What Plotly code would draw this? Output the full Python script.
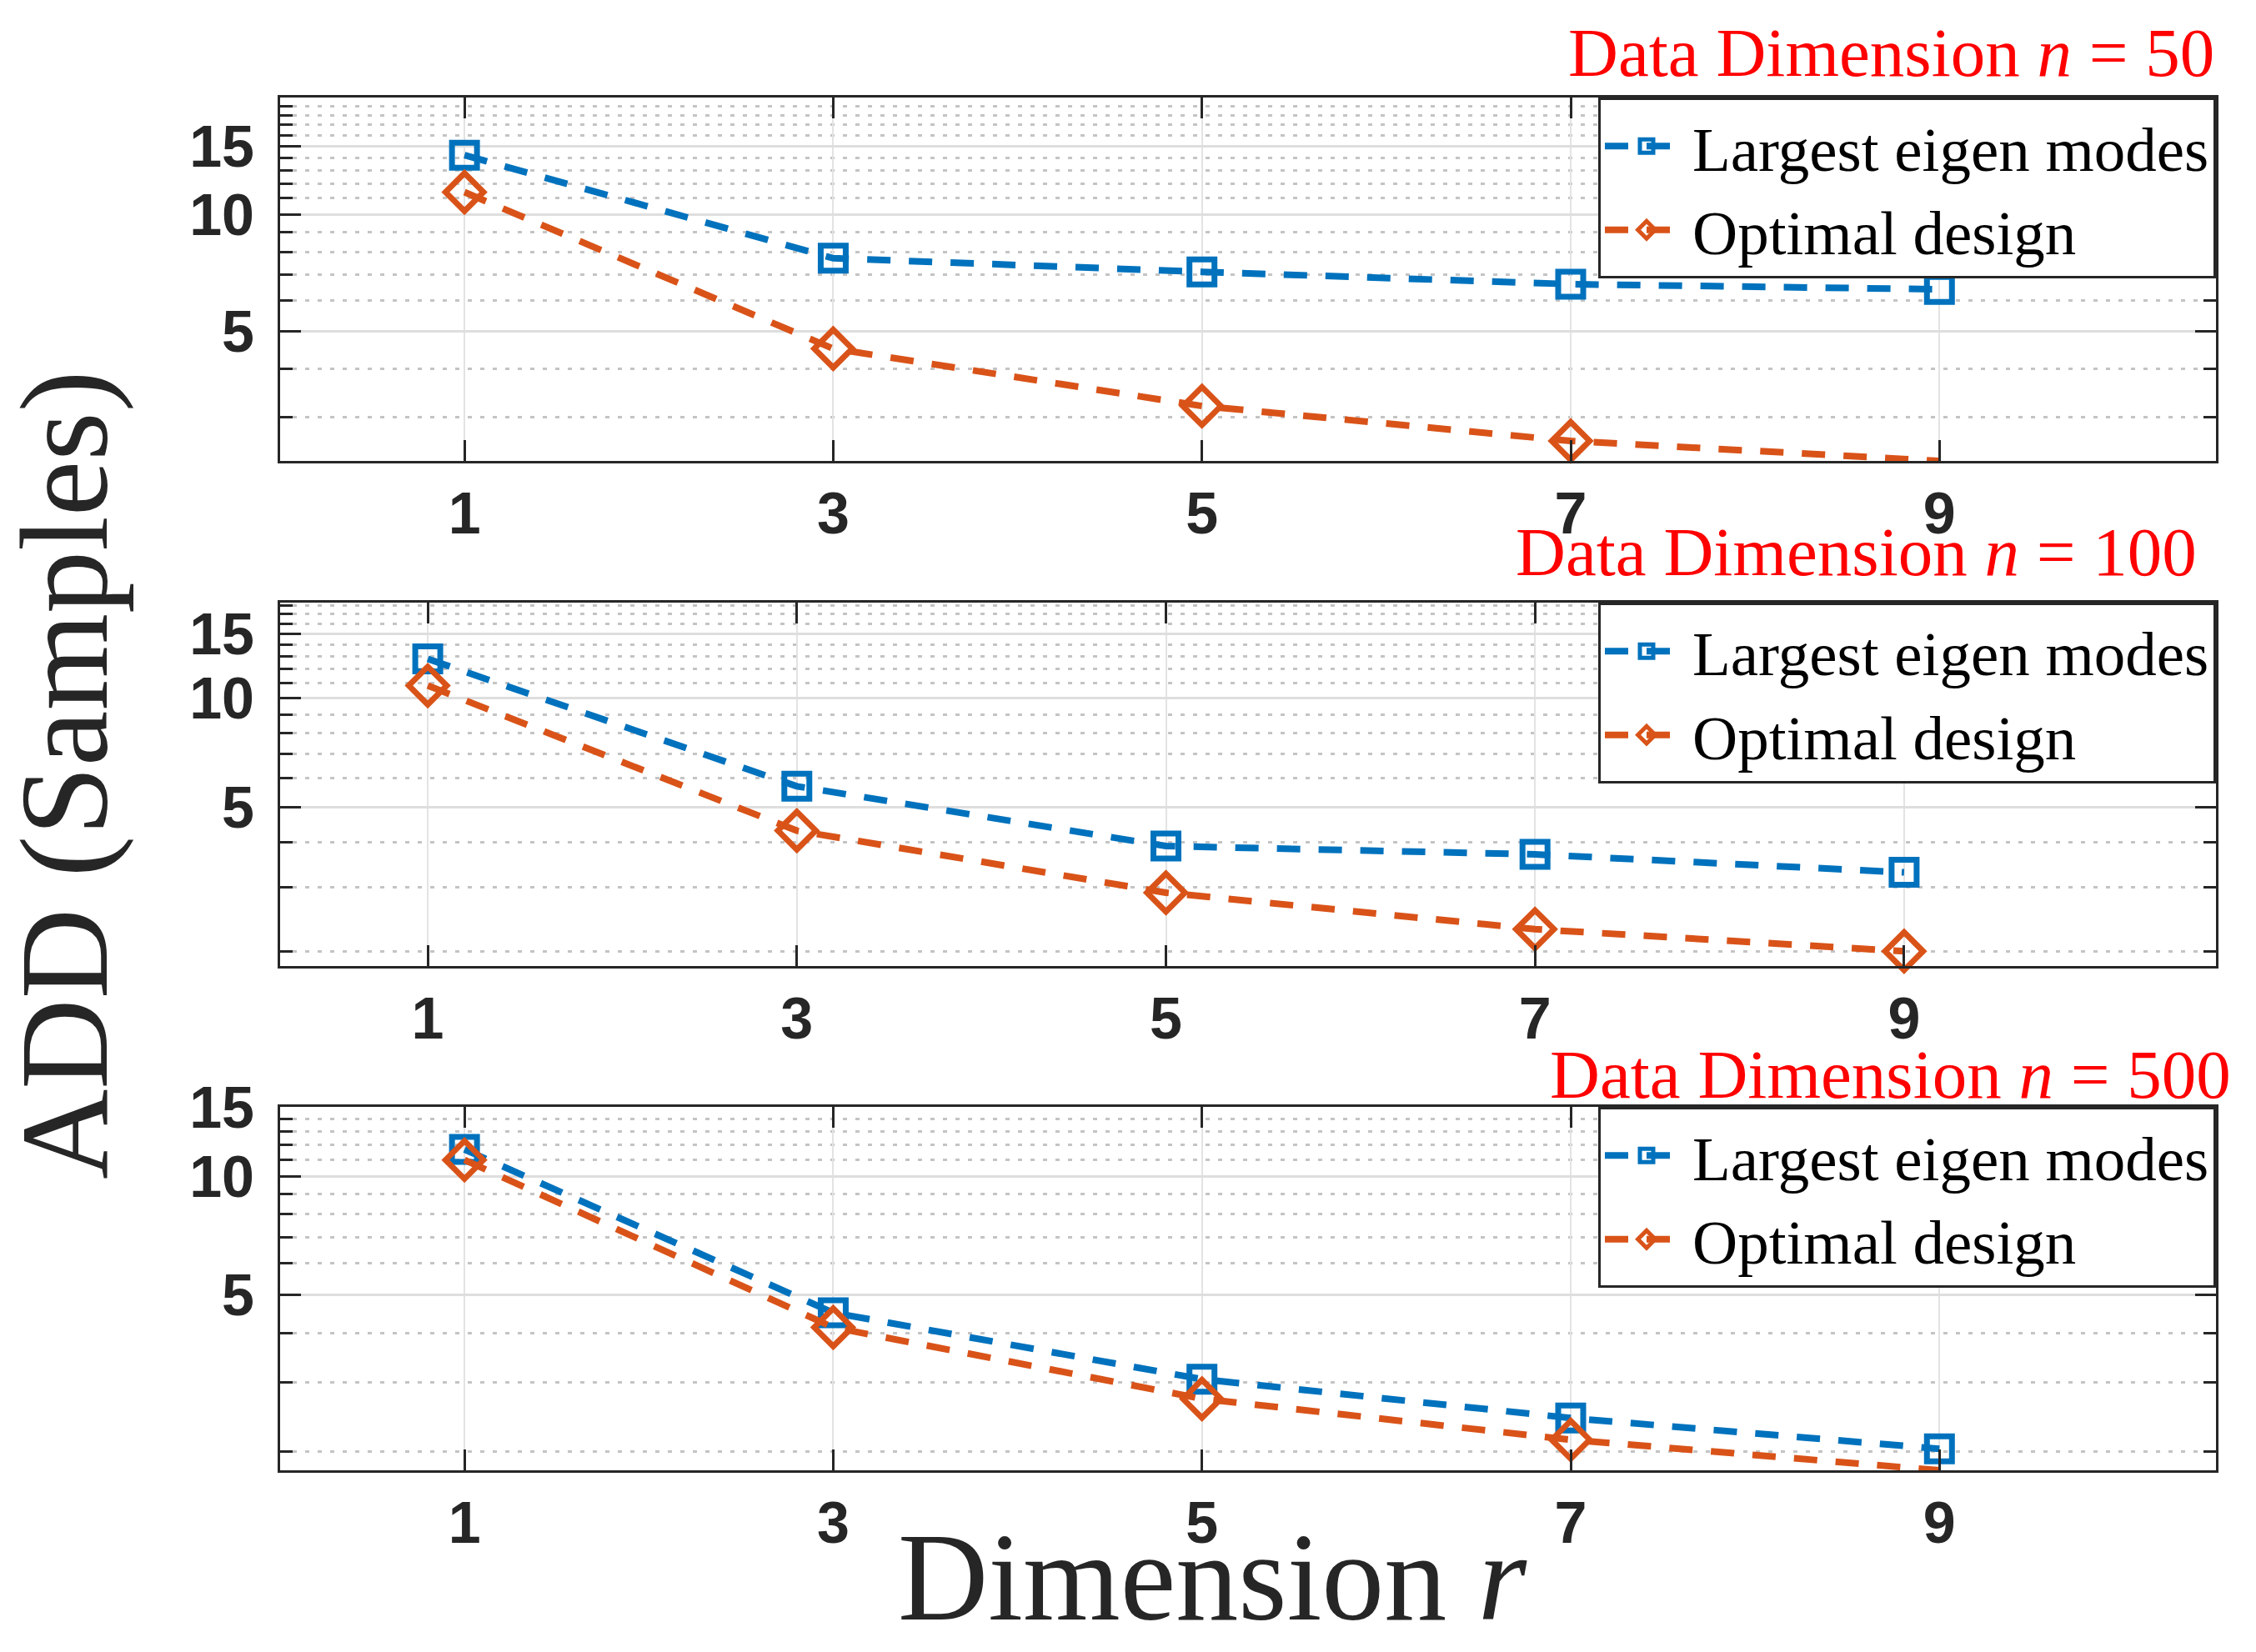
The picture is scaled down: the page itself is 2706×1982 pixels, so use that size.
import math
import plotly.graph_objects as go
from plotly.subplots import make_subplots

# datos
r_vals = [1, 3, 5, 7, 9]
n50_eigen = [14.2, 7.7, 7.1, 6.6, 6.4]
n50_opt = [11.4, 4.5, 3.2, 2.6, 2.31]
n100_eigen = [12.8, 5.7, 3.9, 3.7, 3.3]
n100_opt = [10.8, 4.3, 2.9, 2.3, 2.0]
n500_eigen = [11.7, 4.5, 3.05, 2.43, 2.03]
n500_opt = [11.0, 4.13, 2.72, 2.14, 1.79]

paneles = ["Data Dimension <i>n</i> = 50", "Data Dimension <i>n</i> = 100",
           "Data Dimension <i>n</i> = 500"]
nombres = ["Largest eigen modes", "Optimal design"]
ytick_vals = [5, 10, 15]
ytick_text = ["5", "10", "15"]
xtick_vals = [1, 3, 5, 7, 9]
minor_vals = [2, 3, 4, 6, 7, 8, 9, 11, 12, 13, 14, 16, 17, 18, 19]

AZUL = "#0072BD"
NARANJA = "#D95319"
GRIS = "#262626"
SERIF = "Liberation Serif"
SANS = "Liberation Sans"

fig = make_subplots(rows=3, cols=1, vertical_spacing=0.1)

series = [(n50_eigen, n50_opt), (n100_eigen, n100_opt), (n500_eigen, n500_opt)]
leyendas = ["legend", "legend2", "legend3"]
for i, (eig, opt) in enumerate(series):
    fig.add_trace(go.Scatter(x=r_vals, y=eig, name=nombres[0], mode="lines+markers",
                             line=dict(color=AZUL, width=8, dash="28px,22px"),
                             marker=dict(symbol="square-open", size=30, color=AZUL,
                                         line=dict(width=7, color=AZUL)),
                             cliponaxis=False, legend=leyendas[i]), row=i + 1, col=1)
    fig.add_trace(go.Scatter(x=r_vals, y=opt, name=nombres[1], mode="lines+markers",
                             line=dict(color=NARANJA, width=8, dash="28px,22px"),
                             marker=dict(symbol="diamond-open", size=35, color=NARANJA,
                                         line=dict(width=7, color=NARANJA)),
                             cliponaxis=False, legend=leyendas[i]), row=i + 1, col=1)

# dominios de cada panel (coordenadas de papel)
dominios = [[0.7353, 1.0], [0.3673, 0.6321], [0.0, 0.2647]]
rangos_x = [[0, 10.5], [0.2, 10.69], [0, 10.5]]
rangos_y = [[2.31, 20], [1.82, 18.3], [1.79, 15]]

for i in range(3):
    fig.update_xaxes(row=i + 1, col=1, range=rangos_x[i], tickvals=xtick_vals,
                     ticks="inside", ticklen=25, tickwidth=3, tickcolor=GRIS,
                     showline=True, linecolor=GRIS, linewidth=3, mirror="allticks",
                     showgrid=True, gridcolor="#e3e3e3", gridwidth=2, zeroline=False,
                     tickfont=dict(family=SANS, size=70, color=GRIS, weight="bold"),
                     ticklabelstandoff=0)
    fig.update_yaxes(row=i + 1, col=1, type="log", domain=dominios[i],
                     range=[math.log10(rangos_y[i][0]), math.log10(rangos_y[i][1])],
                     tickvals=ytick_vals, ticktext=ytick_text,
                     ticks="inside", ticklen=25, tickwidth=3, tickcolor=GRIS,
                     showline=True, linecolor=GRIS, linewidth=3, mirror="allticks",
                     showgrid=True, gridcolor="#dedede", gridwidth=3, zeroline=False,
                     tickfont=dict(family=SANS, size=70, color=GRIS, weight="bold"),
                     ticklabelstandoff=14,
                     minor=dict(tickvals=minor_vals, ticks="inside", ticklen=15,
                                tickwidth=3, tickcolor=GRIS, showgrid=True,
                                gridcolor="#c4c4c4", gridwidth=3, griddash="5px,10px"))

# titulos rojos de cada panel
pos_titulo = [(1.0, 1.0328), (0.991, 0.6691), (1.0086, 0.2884)]
for i, (xx, yy) in enumerate(pos_titulo):
    fig.add_annotation(text=paneles[i], xref="paper", yref="paper", x=xx, y=yy,
                       xanchor="right", yanchor="middle", showarrow=False,
                       font=dict(family=SERIF, size=83, color="red"))

fig.add_annotation(text="ADD (Samples)", xref="paper", yref="paper", x=-0.1111, y=0.5064,
                   xanchor="center", yanchor="middle", textangle=-90, showarrow=False,
                   font=dict(family=SERIF, size=150, color=GRIS))
fig.add_annotation(text="Dimension <i>r</i>", xref="paper", yref="paper", x=0.4817, y=-0.0777,
                   xanchor="center", yanchor="middle", showarrow=False,
                   font=dict(family=SERIF, size=150, color=GRIS))

estilo_leyenda = dict(x=1, xanchor="right", yanchor="top", bgcolor="white",
                      bordercolor=GRIS, borderwidth=3, tracegroupgap=0, itemwidth=100,
                      itemsizing="trace",
                      font=dict(family=SERIF, size=75, color="black"))
fig.update_layout(
    width=2706, height=1982,
    margin=dict(l=336, r=48, t=117, b=218),
    plot_bgcolor="white", paper_bgcolor="white",
    legend=dict(y=dominios[0][1], **estilo_leyenda),
    legend2=dict(y=dominios[1][1], **estilo_leyenda),
    legend3=dict(y=dominios[2][1], **estilo_leyenda),
)

fig.write_html("out.html", config={"displayModeBar": False},
               post_script="document.body.style.margin='0px';")
